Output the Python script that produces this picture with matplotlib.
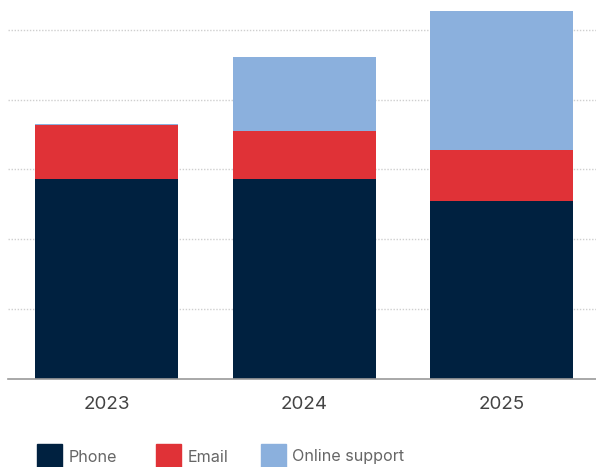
import matplotlib
matplotlib.use("Agg")
import matplotlib.pyplot as plt
from matplotlib.patches import Rectangle

years = ["2023", "2024", "2025"]
phone = [57.2, 57.2, 50.9]
email = [15.5, 13.8, 14.6]
online = [0.4, 21.2, 39.9]
series_names = ["Phone", "Email", "Online support"]
colors = ["#002140", "#e03237", "#8bb0dd"]

plt.rcParams["font.family"] = ["Inter", "DejaVu Sans"]

W, H = 596, 467
fig = plt.figure(figsize=(W / 100, H / 100), dpi=100)
ax = fig.add_axes([8 / W, 1 - 379 / H, 588 / W, 379 / H])

x = list(range(len(years)))
bottom = [0.0] * len(years)
for vals, c in zip([phone, email, online], colors):
    ax.bar(x, vals, width=0.724, bottom=bottom, color=c, zorder=3)
    bottom = [b + v for b, v in zip(bottom, vals)]

ax.set_xlim(-0.499, 2.478)
ax.set_ylim(0, 108.5)

for gy in [20, 40, 60, 80, 100]:
    ax.axhline(gy, color="#cfcfcf", linewidth=1, linestyle=(0, (1, 1.2)), zorder=1)

for s in ["top", "right", "left"]:
    ax.spines[s].set_visible(False)
ax.spines["bottom"].set_color("#9a9a9a")
ax.spines["bottom"].set_linewidth(1.2)
ax.spines["bottom"].set_zorder(4)

ax.set_yticks([])
ax.set_xticks(x)
ax.set_xticklabels(years, fontsize=13.5, color="#444444")
ax.tick_params(axis="x", length=0, pad=12)

# legend row along the bottom edge
legend_items = [(37, 69), (156, 188), (261, 292)]
for (sx, tx), name, c in zip(legend_items, series_names, colors):
    fig.add_artist(Rectangle((sx / W, 1 - 467 / H), 25 / W, 23 / H,
                             transform=fig.transFigure, color=c))
    fig.text(tx / W, 1 - 457 / H, name, fontsize=11.6, color="#666666",
             va="center", ha="left")

fig.savefig("out.png", dpi=100)
